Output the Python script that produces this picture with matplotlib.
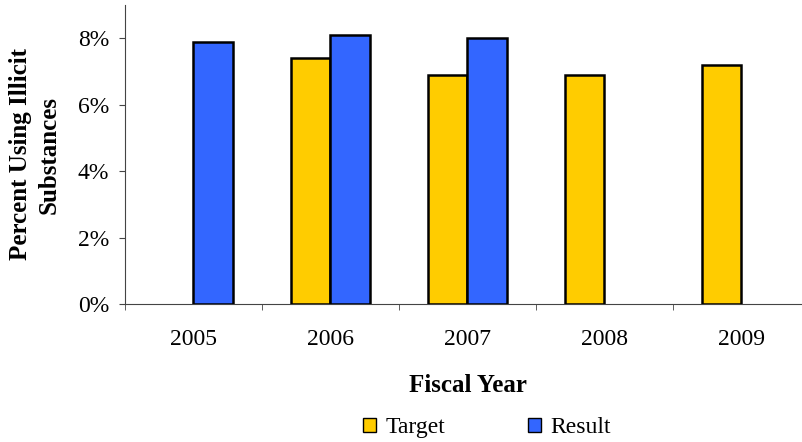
import numpy as np
import matplotlib.pyplot as plt
from matplotlib.patches import Patch
from matplotlib.ticker import FuncFormatter

years = ["2005", "2006", "2007", "2008", "2009"]
target = [np.nan, 7.4, 6.9, 6.9, 7.2]
result = [7.9, 8.1, 8.0, np.nan, np.nan]

plt.rcParams['font.family'] = ['Liberation Serif', 'DejaVu Serif']

fig = plt.figure(figsize=(8.03, 4.42), dpi=100)
ax = fig.add_axes([125 / 803, 138 / 442, 685 / 803, 299 / 442])

x = np.arange(len(years))
w = 0.285
ax.bar(x - w / 2, target, width=w, color='#FFCC00', edgecolor='black', linewidth=1.8, zorder=3)
ax.bar(x + w / 2, result, width=w, color='#3366FF', edgecolor='black', linewidth=1.8, zorder=3)

ax.set_xlim(-0.5, 4.5)
ax.set_ylim(0, 9)
ax.set_yticks([0, 2, 4, 6, 8])
ax.yaxis.set_major_formatter(FuncFormatter(lambda v, p: f"{v:.0f}%"))
ax.set_xticks(x)
ax.set_xticklabels(years)
ax.set_xticks(np.arange(-0.5, 5.0, 1.0), minor=True)
ax.tick_params(axis='x', which='major', length=0, labelsize=17, pad=18)
ax.tick_params(axis='x', which='minor', length=4.5, direction='out', color='#444444')
ax.tick_params(axis='y', length=4.5, direction='out', labelsize=17, pad=7, color='#444444')

for s in ['top', 'right']:
    ax.spines[s].set_visible(False)
ax.spines['left'].set_color('#444444')
ax.spines['bottom'].set_color('#444444')

ax.set_xlabel("Fiscal Year", fontsize=18, fontweight='bold', labelpad=17)
ax.set_ylabel("Percent Using Illicit\nSubstances", fontsize=18, fontweight='bold', labelpad=12, linespacing=1.35)

handles = [Patch(facecolor='#FFCC00', edgecolor='black', label='Target'),
           Patch(facecolor='#3366FF', edgecolor='black', label='Result')]
fig.legend(handles=handles, loc='center', bbox_to_anchor=(0.606, 0.032), ncol=2,
           frameon=False, fontsize=17, handlelength=0.55, handleheight=0.55,
           columnspacing=3.5, handletextpad=0.4)

fig.savefig("out.png", dpi=100)
